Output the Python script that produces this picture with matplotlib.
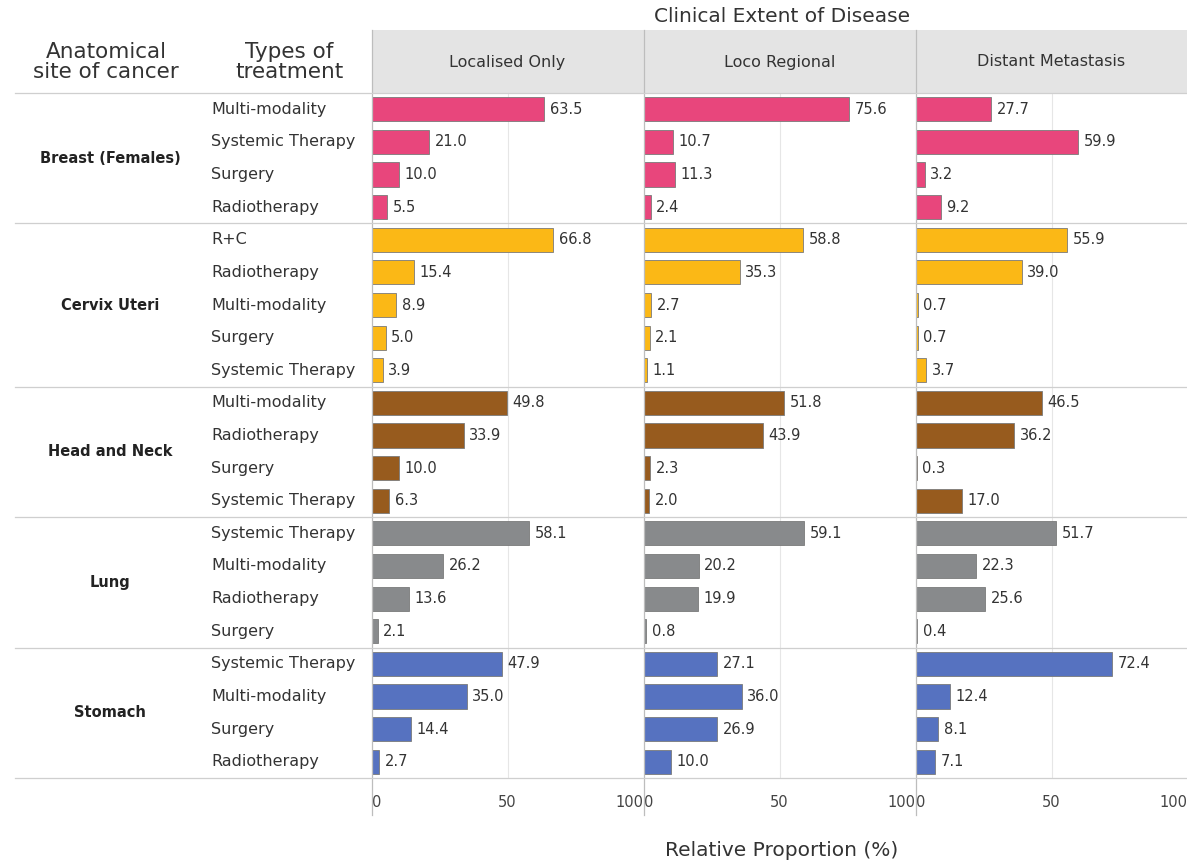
import matplotlib.pyplot as plt
import matplotlib.patches as mpatches
from matplotlib.lines import Line2D

plt.rcParams['font.family'] = ['DejaVu Sans']

# ---- data ----
sites = ["Breast (Females)", "Cervix Uteri", "Head and Neck", "Lung", "Stomach"]
site_colors = ["#e8467c", "#fbb816", "#975b1e", "#888a8c", "#5672c0"]

treatments = [
    ["Multi-modality", "Systemic Therapy", "Surgery", "Radiotherapy"],
    ["R+C", "Radiotherapy", "Multi-modality", "Surgery", "Systemic Therapy"],
    ["Multi-modality", "Radiotherapy", "Surgery", "Systemic Therapy"],
    ["Systemic Therapy", "Multi-modality", "Radiotherapy", "Surgery"],
    ["Systemic Therapy", "Multi-modality", "Surgery", "Radiotherapy"],
]

extents = ["Localised Only", "Loco Regional", "Distant Metastasis"]

localised = [63.5, 21.0, 10.0, 5.5,
             66.8, 15.4, 8.9, 5.0, 3.9,
             49.8, 33.9, 10.0, 6.3,
             58.1, 26.2, 13.6, 2.1,
             47.9, 35.0, 14.4, 2.7]
loco = [75.6, 10.7, 11.3, 2.4,
        58.8, 35.3, 2.7, 2.1, 1.1,
        51.8, 43.9, 2.3, 2.0,
        59.1, 20.2, 19.9, 0.8,
        27.1, 36.0, 26.9, 10.0]
distant = [27.7, 59.9, 3.2, 9.2,
           55.9, 39.0, 0.7, 0.7, 3.7,
           46.5, 36.2, 0.3, 17.0,
           51.7, 22.3, 25.6, 0.4,
           72.4, 12.4, 8.1, 7.1]
panel_values = [localised, loco, distant]

# ---- layout (pixels) ----
W, H = 1187, 864
fig = plt.figure(figsize=(W / 100, H / 100), dpi=100)

def fx(px):
    return px / W

def fy(py):
    return 1 - py / H

top, bottom = 93, 778
panel_x = [372, 644, 916]
panel_w = 271
n_rows = sum(len(t) for t in treatments)
row_h = (bottom - top) / n_rows

# row colours and labels
row_colors = []
row_labels = []
for site, col, tr in zip(sites, site_colors, treatments):
    row_colors += [col] * len(tr)
    row_labels += tr
rows = list(range(n_rows))

# header band
fig.patches.append(mpatches.Rectangle((fx(372), fy(93)), fx(W - 372), (93 - 30) / H,
                                      transform=fig.transFigure, facecolor="#e4e4e4",
                                      edgecolor="none", zorder=0))

for i, (ext, vals) in enumerate(zip(extents, panel_values)):
    ax = fig.add_axes([fx(panel_x[i]), fy(bottom), fx(panel_w), (bottom - top) / H])
    ax.barh(rows, vals, height=0.74, color=row_colors, edgecolor="#7a7a7a",
            linewidth=0.6, zorder=3)
    for r, v in zip(rows, vals):
        ax.annotate(f"{v:.1f}", (v, r), xytext=(4, 0), textcoords="offset points",
                    va="center", ha="left", fontsize=10.5, color="#333333", zorder=4)
    ax.set_xlim(0, 100)
    ax.set_ylim(n_rows - 0.5, -0.5)
    ax.set_yticks([])
    ax.set_xticks([0, 50, 100])
    ax.set_xticklabels(["0", "50", "100"])
    labs = ax.get_xticklabels()
    labs[0].set_ha("left")
    labs[2].set_ha("right")
    ax.tick_params(axis="x", length=0, pad=12, labelsize=10.5, labelcolor="#444444")
    ax.axvline(50, color="#e6e6e6", linewidth=0.8, zorder=1)
    for s in ["top", "right", "bottom", "left"]:
        ax.spines[s].set_visible(False)
    ax.set_facecolor("none")
    # panel title
    fig.text(fx(panel_x[i] + panel_w / 2), fy(62), ext, ha="center", va="center",
             fontsize=11.5, color="#333333")
    # panel left line (through header and below axis)
    fig.lines.append(Line2D([fx(panel_x[i]), fx(panel_x[i])], [fy(30), fy(815)],
                            transform=fig.transFigure, color="#bdbdbd", linewidth=0.9))

# horizontal separators
sep_rows = [0]
for tr in treatments:
    sep_rows.append(sep_rows[-1] + len(tr))
for k in sep_rows:
    y = top + k * row_h
    fig.lines.append(Line2D([fx(15), 1], [fy(y), fy(y)], transform=fig.transFigure,
                            color="#cfcfcf", linewidth=0.9, zorder=5))

# left table labels
for r, lab in enumerate(row_labels):
    fig.text(fx(211), fy(top + (r + 0.5) * row_h), lab, ha="left", va="center",
             fontsize=11.5, color="#333333")
for site, k0, k1 in zip(sites, sep_rows[:-1], sep_rows[1:]):
    fig.text(fx(110), fy(top + (k0 + k1) / 2 * row_h), site, ha="center", va="center",
             fontsize=10.5, fontweight="bold", color="#222222")

fig.text(fx(106), fy(62), "Anatomical\nsite of cancer", ha="center", va="center",
         fontsize=15.5, color="#333333", linespacing=1.0)
fig.text(fx(289), fy(62), "Types of\ntreatment", ha="center", va="center",
         fontsize=15.5, color="#333333", linespacing=1.0)

fig.text(fx(782), fy(17), "Clinical Extent of Disease", ha="center", va="center",
         fontsize=14.5, color="#333333")
fig.text(fx(782), fy(850), "Relative Proportion (%)", ha="center", va="center",
         fontsize=14.5, color="#333333")

fig.savefig("out.png", dpi=100, facecolor="white")
